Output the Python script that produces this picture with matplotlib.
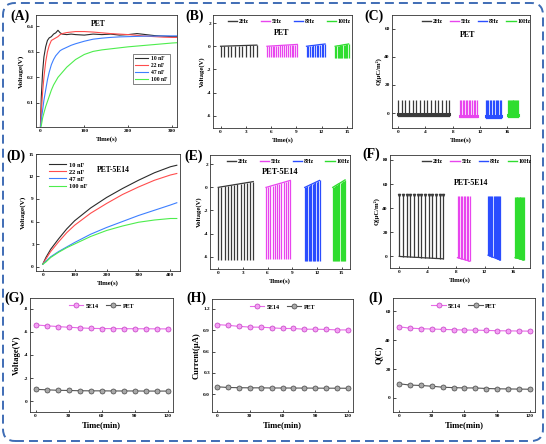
"""
Nine panel TENG figure: charging curves, pulse trains, stability
"""
import numpy as np
import matplotlib
matplotlib.use('Agg')
import matplotlib.pyplot as plt
import matplotlib.patches as mpatches
from matplotlib.lines import Line2D

#----------------------------DATA-------------------------------#
caps = ['10 nF', '22 nF', '47 nF', '100 nF']
freqs = ['2Hz', '5Hz', '8Hz', '10Hz']

# (A) PET charging
t_A = [0, 2, 5, 8, 12, 16, 20, 25, 30, 35, 40, 45, 50, 60, 70, 80, 100, 120, 140,
       160, 180, 200, 220, 240, 260, 280, 300, 310]
vA_10 = [0.0, 0.12, 0.22, 0.28, 0.32, 0.345, 0.355, 0.36, 0.37, 0.375, 0.385, 0.375, 0.37, 0.368,
         0.37, 0.368, 0.366, 0.37, 0.368, 0.37, 0.366, 0.368, 0.372, 0.368, 0.364, 0.362, 0.36, 0.36]
vA_22 = [0.0, 0.06, 0.14, 0.2, 0.26, 0.3, 0.325, 0.345, 0.35, 0.355, 0.36, 0.368, 0.372, 0.376,
         0.378, 0.38, 0.38, 0.378, 0.375, 0.372, 0.37, 0.368, 0.365, 0.362, 0.36, 0.358, 0.357, 0.357]
vA_47 = [0.0, 0.03, 0.07, 0.11, 0.15, 0.19, 0.22, 0.25, 0.27, 0.285, 0.295, 0.305, 0.31, 0.318,
         0.326, 0.332, 0.342, 0.35, 0.354, 0.357, 0.359, 0.36, 0.361, 0.362, 0.362, 0.363, 0.363, 0.363]
vA_100 = [0.0, 0.01, 0.04, 0.06, 0.085, 0.105, 0.125, 0.15, 0.17, 0.185, 0.2, 0.21, 0.22, 0.24,
          0.255, 0.27, 0.29, 0.302, 0.308, 0.312, 0.316, 0.32, 0.323, 0.326, 0.329, 0.332, 0.335, 0.336]

# (D) PET-5E14 charging
t_D = [0, 10, 25, 50, 75, 100, 150, 200, 250, 300, 350, 400, 420]
vD_10 = [0.3, 1.2, 2.3, 3.7, 5.0, 6.1, 7.8, 9.2, 10.4, 11.5, 12.5, 13.3, 13.5]
vD_22 = [0.3, 1.0, 2.0, 3.3, 4.5, 5.5, 7.1, 8.4, 9.6, 10.6, 11.5, 12.2, 12.4]
vD_47 = [0.3, 0.7, 1.3, 2.0, 2.6, 3.2, 4.3, 5.2, 6.0, 6.8, 7.5, 8.2, 8.5]
vD_100 = [0.3, 0.6, 1.2, 1.9, 2.5, 3.0, 4.0, 4.8, 5.4, 5.9, 6.2, 6.4, 6.4]

# (B) PET voltage pulses
b2_t = [0.0, 0.43, 0.86, 1.29, 1.72, 2.15, 2.58, 3.01, 3.44, 3.87, 4.3]
b2_hi = [0.0, 0.01, 0.02, 0.03, 0.04, 0.05, 0.06, 0.07, 0.08, 0.09, 0.1]
b5_t = [5.5, 5.72, 5.95, 6.17, 6.4, 6.62, 6.85, 7.07, 7.3, 7.52, 7.75, 7.97, 8.2, 8.42, 8.65, 8.87, 9.1]
b5_hi = [0.0, 0.01, 0.02, 0.03, 0.04, 0.05, 0.06, 0.07, 0.08, 0.09, 0.1, 0.11, 0.12, 0.13, 0.14, 0.15, 0.16]
b8_t = [10.2, 10.4, 10.6, 10.8, 11.0, 11.2, 11.4, 11.6, 11.8, 12.0, 12.2, 12.4]
b8_hi = [0.0, 0.02, 0.04, 0.06, 0.07, 0.09, 0.11, 0.13, 0.15, 0.16, 0.18, 0.2]
b10_t = [13.6, 13.75, 13.89, 14.04, 14.18, 14.33, 14.47, 14.62, 14.76, 14.91, 15.05, 15.2]
b10_hi = [0.0, 0.02, 0.04, 0.05, 0.07, 0.09, 0.11, 0.13, 0.15, 0.16, 0.18, 0.2]
b_lo = [-0.9, -0.9, -0.95, -1.0]

# (E) PET-5E14 voltage pulses
e2_t = [0.0, 0.39, 0.77, 1.16, 1.55, 1.93, 2.32, 2.71, 3.09, 3.48, 3.86, 4.25]
e2_hi = [0.0, 0.05, 0.09, 0.14, 0.18, 0.23, 0.27, 0.32, 0.36, 0.41, 0.45, 0.5]
e5_t = [5.8, 6.07, 6.34, 6.6, 6.87, 7.14, 7.41, 7.68, 7.95, 8.21, 8.48, 8.75]
e5_hi = [0.0, 0.05, 0.11, 0.16, 0.22, 0.27, 0.33, 0.38, 0.44, 0.49, 0.55, 0.6]
e8_t = [10.5, 10.66, 10.83, 10.99, 11.15, 11.32, 11.48, 11.64, 11.81, 11.97, 12.14, 12.3]
e8_hi = [0.0, 0.05, 0.11, 0.16, 0.22, 0.27, 0.33, 0.38, 0.44, 0.49, 0.55, 0.6]
e10_t = [13.9, 14.04, 14.17, 14.31, 14.45, 14.58, 14.72, 14.86, 14.99, 15.13, 15.26, 15.4]
e10_hi = [0.0, 0.06, 0.12, 0.18, 0.24, 0.3, 0.35, 0.41, 0.47, 0.53, 0.59, 0.65]
e_lo = [-6.3, -6.2, -6.4, -6.4]

# (C) PET charge pulses
c2_t = [0.0, 0.54, 1.07, 1.61, 2.14, 2.68, 3.21, 3.75, 4.29, 4.82, 5.36, 5.89, 6.43, 6.96, 7.5]
c5_t = [9.0, 9.23, 9.45, 9.68, 9.91, 10.14, 10.36, 10.59, 10.82, 11.05, 11.27, 11.5]
c8_t = [12.8, 13.01, 13.22, 13.43, 13.64, 13.85, 14.05, 14.26, 14.47, 14.68, 14.89, 15.1]
c10_t = [16.1, 16.23, 16.35, 16.48, 16.61, 16.74, 16.86, 16.99, 17.12, 17.25, 17.37, 17.5]
c_hi = [9.3, 9.0, 9.5, 9.3]
c_lo = [-2.2, -3.0, -3.3, -2.5]
c_base = [-0.8, -1.8, -2.2, -1.5]

# (F) PET-5E14 charge pulses
f2_t = [0.0, 0.52, 1.03, 1.55, 2.07, 2.58, 3.1, 3.62, 4.13, 4.65, 5.17, 5.68, 6.2]
f2_lo = [0.0, -0.2, -0.3, -0.5, -0.7, -0.8, -1.0, -1.2, -1.3, -1.5, -1.7, -1.8, -2.0]
f5_t = [8.2, 8.41, 8.63, 8.84, 9.06, 9.27, 9.48, 9.7, 9.9]
f5_lo = [-1.0, -1.4, -1.8, -2.1, -2.5, -2.9, -3.2, -3.6, -4.0]
f8_t = [12.5, 12.65, 12.81, 12.96, 13.12, 13.27, 13.43, 13.58, 13.74, 13.89, 14.05, 14.2]
f8_lo = [1.0, 0.6, 0.3, -0.1, -0.5, -0.8, -1.2, -1.5, -1.9, -2.3, -2.6, -3.0]
f10_t = [16.3, 16.41, 16.52, 16.63, 16.74, 16.85, 16.95, 17.06, 17.17, 17.28, 17.39, 17.5]
f10_lo = [-1.0, -1.2, -1.4, -1.5, -1.7, -1.9, -2.1, -2.3, -2.5, -2.6, -2.8, -3.0]
f_hi = [51.0, 50.0, 50.5, 49.5]

# (G)-(I) stability over time
t_min = [0, 10, 20, 30, 40, 50, 60, 70, 80, 90, 100, 110, 120]
G_5e14 = [-6.6, -6.53, -6.46, -6.4, -6.35, -6.3, -6.29, -6.28, -6.28, -6.27, -6.27, -6.26, -6.26]
G_pet = [-1.03, -0.99, -0.95, -0.93, -0.91, -0.9, -0.9, -0.89, -0.89, -0.89, -0.88, -0.88, -0.88]
H_5e14 = [0.98, 0.97, 0.955, 0.945, 0.943, 0.935, 0.925, 0.925, 0.915, 0.915, 0.912, 0.905, 0.905]
H_pet = [0.105, 0.095, 0.092, 0.09, 0.09, 0.088, 0.088, 0.087, 0.087, 0.086, 0.085, 0.085, 0.084]
I_5e14 = [49.3, 48.4, 48.0, 47.8, 47.5, 47.3, 47.1, 47.0, 46.8, 46.6, 46.5, 46.4, 46.3]
I_pet = [9.8, 8.9, 8.6, 8.1, 7.4, 7.1, 6.9, 6.9, 6.5, 6.3, 6.2, 6.1, 6.0]
#---------------------------------------------------------------#

plt.rcParams['font.family'] = ['Liberation Serif', 'DejaVu Serif']
plt.rcParams['font.weight'] = 'bold'
plt.rcParams['axes.labelweight'] = 'bold'
plt.rcParams['axes.unicode_minus'] = False

W, H = 546, 444
fig = plt.figure(figsize=(W / 100, H / 100), dpi=100)

cap_cols = ['#2b2b2b', '#ff4d4d', '#3d7fff', '#4ded4d']
hz_cols = ['#3a3a3a', '#e845ee', '#2a4dff', '#2fdd2f']
pink, pink_face, pink_edge = '#e86be8', '#f4a0f4', '#c23cc2'
grey, grey_face, grey_edge = '#555555', '#a8a8a8', '#454545'


def add_ax(x0, y0, x1, y1):
    return fig.add_axes([x0 / W, 1 - y1 / H, (x1 - x0) / W, (y1 - y0) / H])


def style(ax, lab=3.8):
    for s in ax.spines.values():
        s.set_linewidth(0.6)
        s.set_color('#333333')
    ax.tick_params(direction='in', length=1.8, width=0.5, labelsize=lab, pad=1.5)


def panel(x, y, txt):
    fig.text(x / W, 1 - y / H, txt, fontsize=10, fontweight='bold', va='center', ha='left')


def train(ax, t, hi, lo, col, base):
    n = len(t)
    hi = np.broadcast_to(np.asarray(hi, float), (n,))
    lo = np.broadcast_to(np.asarray(lo, float), (n,))
    ax.vlines(t, lo, hi, colors=col, lw=0.9)
    ax.plot(t, hi if base == 'hi' else lo, color=col, lw=0.9)


def hz_legend(ax, xc, cs):
    hs = [Line2D([], [], color=c, lw=1.0) for c in hz_cols]
    ax.legend(hs, freqs, loc='upper center', bbox_to_anchor=(xc, 1.0), ncol=4, frameon=False,
              fontsize=4.2, handlelength=1.6, handletextpad=0.3, columnspacing=cs,
              borderaxespad=0.4, borderpad=0.2)


# ---- (A)
ax = add_ax(36, 15, 177, 127)
for v, c, l in zip([vA_10, vA_22, vA_47, vA_100], cap_cols, caps):
    ax.plot(t_A, v, color=c, lw=0.8, label=l)
ax.set_xlim(-10, 311)
ax.set_ylim(0.005, 0.445)
ax.set_xticks([0, 100, 200, 300])
ax.set_yticks([0.1, 0.2, 0.3, 0.4])
ax.set_xlabel('Time(s)', fontsize=4.8, labelpad=2)
ax.set_ylabel('Voltage(V)', fontsize=5.2, labelpad=2)
ax.text(0.44, 0.92, 'PET', transform=ax.transAxes, fontsize=5.5, ha='center', va='center')
lg = ax.legend(loc='upper left', bbox_to_anchor=(0.67, 0.68), fontsize=4.0, handlelength=2.2,
               handletextpad=0.6, labelspacing=0.35, fancybox=False, borderpad=0.4)
lg.get_frame().set_edgecolor('#222222')
lg.get_frame().set_linewidth(0.5)
style(ax)
panel(10, 16, '(A)')

# ---- (B)
ax = add_ax(213, 15, 352, 128)
for t, hi, lo, c in zip([b2_t, b5_t, b8_t, b10_t], [b2_hi, b5_hi, b8_hi, b10_hi], b_lo, hz_cols):
    train(ax, t, hi, lo, c, 'hi')
ax.set_xlim(-0.9, 15.6)
ax.set_ylim(-7.06, 2.7)
ax.set_xticks([0, 3, 6, 9, 12, 15])
ax.set_yticks([-6, -4, -2, 0, 2])
ax.set_xlabel('Time(s)', fontsize=4.8, labelpad=2)
ax.set_ylabel('Voltage(V)', fontsize=4.8, labelpad=1)
ax.text(0.49, 0.84, 'PET', transform=ax.transAxes, fontsize=5.8, ha='center', va='center')
hz_legend(ax, 0.55, 2.0)
style(ax)
panel(185, 16, '(B)')

# ---- (C)
ax = add_ax(392, 15, 530, 128)
for t, hi, lo, b, c in zip([c2_t, c5_t, c8_t, c10_t], c_hi, c_lo, c_base, hz_cols):
    train(ax, t, hi, lo, c, 'lo')
    ax.plot([t[0], t[-1]], [b, b], color=c, lw=2.2)
ax.set_xlim(-0.9, 19.3)
ax.set_ylim(-10.6, 69.6)
ax.set_xticks([0, 4, 8, 12, 16])
ax.set_yticks([0, 20, 40, 60])
ax.set_xlabel('Time(s)', fontsize=4.8, labelpad=2)
ax.set_ylabel('Q(μC/m²)', fontsize=4.8, labelpad=2)
ax.text(0.55, 0.82, 'PET', transform=ax.transAxes, fontsize=5.8, ha='center', va='center')
hz_legend(ax, 0.61, 1.2)
style(ax)
panel(364, 16, '(C)')

# ---- (D)
ax = add_ax(36, 154, 180, 271)
for v, c, l in zip([vD_10, vD_22, vD_47, vD_100], cap_cols, caps):
    ax.plot(t_D, v, color=c, lw=0.8, label=l)
ax.set_xlim(-21, 430)
ax.set_ylim(-0.6, 15)
ax.set_xticks([0, 100, 200, 300, 400])
ax.set_yticks([0, 3, 6, 9, 12, 15])
ax.set_xlabel('Time(s)', fontsize=4.8, labelpad=2)
ax.set_ylabel('Voltage(V)', fontsize=5.2, labelpad=2)
ax.text(0.535, 0.86, 'PET-5E14', transform=ax.transAxes, fontsize=5.5, ha='center', va='center')
ax.legend(loc='upper left', bbox_to_anchor=(0.05, 0.98), fontsize=4.6, handlelength=2.6,
          handletextpad=0.6, labelspacing=0.25, frameon=False)
style(ax)
panel(6, 156, '(D)')

# ---- (E)
ax = add_ax(210, 155, 350, 269)
for t, hi, lo, c in zip([e2_t, e5_t, e8_t, e10_t], [e2_hi, e5_hi, e8_hi, e10_hi], e_lo, hz_cols):
    train(ax, t, hi, lo, c, 'hi')
ax.set_xlim(-1.0, 16.0)
ax.set_ylim(-7.06, 2.8)
ax.set_xticks([0, 3, 6, 9, 12, 15])
ax.set_yticks([-6, -4, -2, 0, 2])
ax.set_xlabel('Time(s)', fontsize=4.8, labelpad=2)
ax.set_ylabel('Voltage(V)', fontsize=4.8, labelpad=1)
ax.text(0.5, 0.85, 'PET-5E14', transform=ax.transAxes, fontsize=6.0, ha='center', va='center')
hz_legend(ax, 0.56, 2.0)
style(ax)
panel(184, 156, '(E)')

# ---- (F)
ax = add_ax(390, 155, 530, 268)
for t, lo, hi, c in zip([f2_t, f5_t, f8_t, f10_t], [f2_lo, f5_lo, f8_lo, f10_lo], f_hi, hz_cols):
    train(ax, t, hi, lo, c, 'lo')
ax.plot(f2_t, np.full(len(f2_t), f_hi[0]), ls='none', marker='v', ms=1.6, color=hz_cols[0])
ax.set_xlim(-1.3, 18.4)
ax.set_ylim(-9.6, 84.1)
ax.set_xticks([0, 4, 8, 12, 16])
ax.set_yticks([0, 20, 40, 60, 80])
ax.set_xlabel('Time(s)', fontsize=4.8, labelpad=2)
ax.set_ylabel('Q(μC/m²)', fontsize=4.8, labelpad=2)
ax.text(0.58, 0.75, 'PET-5E14', transform=ax.transAxes, fontsize=5.8, ha='center', va='center')
hz_legend(ax, 0.62, 1.3)
style(ax)
panel(362, 154, '(F)')


# ---- (G) (H) (I)
def stab(ax, a, b):
    ax.plot(t_min, a, color=pink, lw=0.8, marker='o', ms=3.6, mfc=pink_face, mec=pink_edge,
            mew=0.5, label='5E14')
    ax.plot(t_min, b, color=grey, lw=0.8, marker='o', ms=3.6, mfc=grey_face, mec=grey_edge,
            mew=0.5, label='PET')
    ax.set_xticks([0, 30, 60, 90, 120])
    ax.legend(loc='upper center', bbox_to_anchor=(0.5, 1.0), ncol=2, frameon=False, fontsize=4.3,
              handlelength=2.4, handletextpad=0.4, columnspacing=1.2, borderaxespad=0.5)
    ax.set_xlabel('Time(min)', fontsize=6.2, labelpad=2)
    style(ax)


ax = add_ax(30, 298, 173, 412)
stab(ax, G_5e14, G_pet)
ax.set_xlim(-5, 124.5)
ax.set_ylim(0.93, -8.93)
ax.set_yticks([0, -2, -4, -6, -8])
ax.set_ylabel('Voltage(V)', fontsize=6.2, labelpad=2)
panel(4, 298, '(G)')

ax = add_ax(212, 299, 353, 412)
stab(ax, H_5e14, H_pet)
ax.set_xlim(-4.6, 124.5)
ax.set_ylim(-0.25, 1.34)
ax.set_yticks([0.0, 0.3, 0.6, 0.9, 1.2])
ax.set_yticklabels(['0.0', '0.3', '0.6', '0.9', '1.2'])
ax.set_ylabel('Current(μA)', fontsize=6.2, labelpad=2)
panel(186, 298, '(H)')

ax = add_ax(393, 298, 535, 412)
stab(ax, I_5e14, I_pet)
ax.set_xlim(-5.5, 124.6)
ax.set_ylim(-9.8, 69.3)
ax.set_yticks([0, 20, 40, 60])
ax.set_ylabel('Q(C)', fontsize=6.2, labelpad=2)
panel(368, 298, '(I)')

# dashed rounded frame round the whole figure
frame = mpatches.FancyBboxPatch((0.03, 0.03), 5.40, 4.38,
                                boxstyle='round,pad=0,rounding_size=0.12',
                                transform=fig.dpi_scale_trans, fill=False,
                                edgecolor='#3f6db5', lw=1.4, ls=(0, (4.6, 2.6)))
fig.add_artist(frame)

fig.savefig('out.png', dpi=100)
